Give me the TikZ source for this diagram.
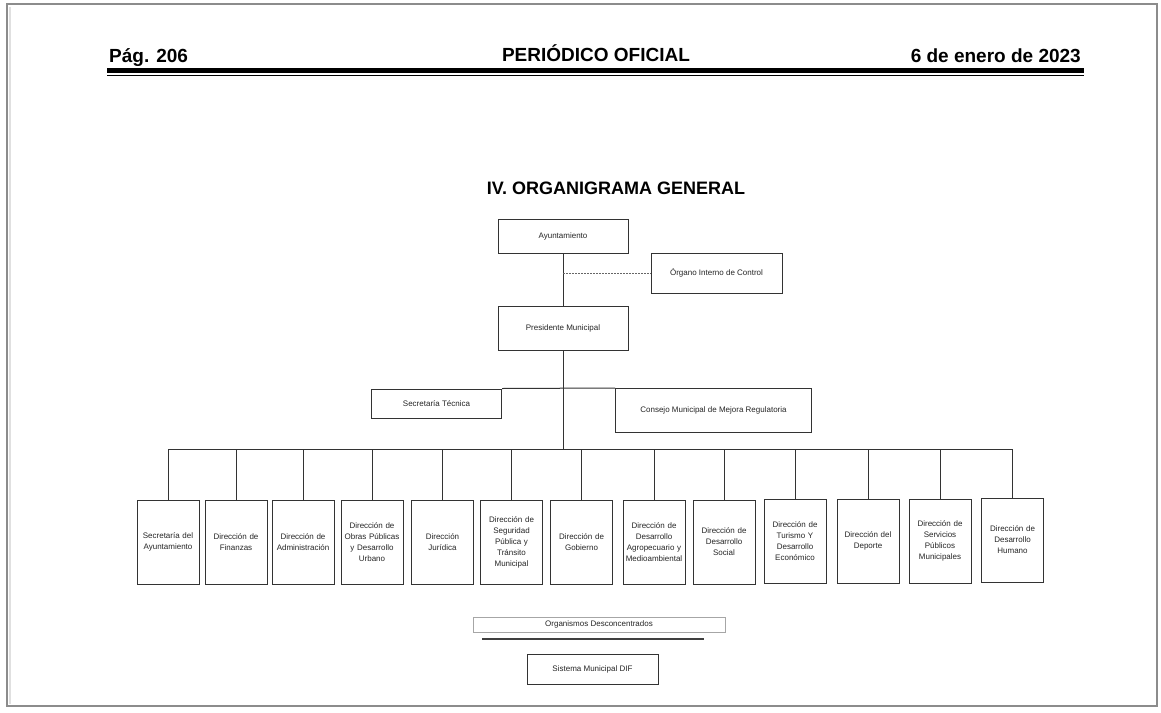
\documentclass[tikz,border=0pt]{standalone}
\usepackage{fontspec}
\setmainfont{Liberation Sans}
\begin{document}
\begin{tikzpicture}[x=1pt,y=-1pt,
  box/.style={draw=black!80, line width=1pt, inner sep=1pt, align=center,
    font=\fontsize{8}{11}\selectfont, text=black!85},
  dirbox/.style={box, minimum width=62pt, minimum height=84pt, text width=60pt},
  link/.style={draw=black!80, line width=1pt},
  dashlink/.style={draw=black!60, line width=1pt, dash pattern=on 2pt off 1pt},
  head/.style={inner sep=0pt, font=\bfseries\fontsize{19}{19}\selectfont}]
\useasboundingbox (0,0) rectangle (1161,712);
\fill[white] (0,0) rectangle (1161,712);
\draw[black!45, line width=2pt] (7,4) rectangle (1157,706);
\draw[black!12, line width=2pt] (9.5,6.5) -- (9.5,703.5);
% header
\node[head, anchor=base west] (pag) at (109,62) {Pág. 206};
\node[head, anchor=base] (per) at (596,61) {PERIÓDICO OFICIAL};
\node[head, anchor=base east] (fecha) at (1081,62) {6 de enero de 2023};
\fill[black] (107,68) rectangle (1084,73.2);
\fill[black] (107,74.6) rectangle (1084,76.2);
% title
\node[inner sep=0pt, anchor=base, font=\bfseries\fontsize{18}{18}\selectfont] (title) at (616,194) {IV. ORGANIGRAMA GENERAL};
% top boxes
\node[box, minimum width=130pt, minimum height=34pt] (ayun) at (563,236) {Ayuntamiento};
\node[box, minimum width=131pt, minimum height=40pt] (organo) at (716.5,273) {Órgano Interno de Control};
\node[box, minimum width=130pt, minimum height=44pt] (pres) at (563,328) {Presidente Municipal};
\node[box, minimum width=130pt, minimum height=29pt] (sect) at (436.5,403.5) {Secretaría Técnica};
\node[box, minimum width=196pt, minimum height=44pt] (cons) at (713.5,410.5) {Consejo Municipal de Mejora Regulatoria};
\coordinate (busy) at (0,449);
% direcciones
\node[dirbox] (d1) at (168,542) {Secretaría del\\Ayuntamiento};
\node[dirbox] (d2) at (236,542) {Dirección de\\Finanzas};
\node[dirbox] (d3) at (303,542) {Dirección de\\Administración};
\node[dirbox] (d4) at (372,542) {Dirección de\\Obras Públicas\\y Desarrollo\\Urbano};
\node[dirbox] (d5) at (442.5,542) {Dirección\\Jurídica};
\node[dirbox] (d6) at (511.5,542) {Dirección de\\Seguridad\\Pública y\\Tránsito\\Municipal};
\node[dirbox] (d7) at (581.5,542) {Dirección de\\Gobierno};
\node[dirbox] (d8) at (654,542) {Dirección de\\Desarrollo\\Agropecuario y\\Medioambiental};
\node[dirbox] (d9) at (724,542) {Dirección de\\Desarrollo\\Social};
\node[dirbox] (d10) at (795,541) {Dirección de\\Turismo Y\\Desarrollo\\Económico};
\node[dirbox] (d11) at (868,541) {Dirección del\\Deporte};
\node[dirbox] (d12) at (940,541) {Dirección de\\Servicios\\Públicos\\Municipales};
\node[dirbox] (d13) at (1012.5,540) {Dirección de\\Desarrollo\\Humano};
% connectors
\draw[link] (ayun.south) -- (pres.north);
\draw[dashlink] (ayun.south |- organo.west) -- (organo.west);
\draw[link] (pres.south) -- (pres.south |- busy);
\draw[link] (sect.north east) -- (cons.north west);
\draw[link] (d1.north |- busy) -- (d13.north |- busy);
\foreach \i in {1,...,13} {\draw[link] (d\i.north) -- (d\i.north |- busy);}
% organismos
\node[box, draw=black!35, line width=0.6pt, minimum width=252pt, minimum height=15pt] (org) at (599,624.5) {Organismos Desconcentrados};
\coordinate (ula) at (482,639);
\coordinate (ulb) at (704,639);
\draw[black!75, line width=1.6pt] (ula) -- (ulb);
\node[box, minimum width=131pt, minimum height=30pt] (dif) at (592.5,669) {Sistema Municipal DIF};
\end{tikzpicture}
\end{document}
